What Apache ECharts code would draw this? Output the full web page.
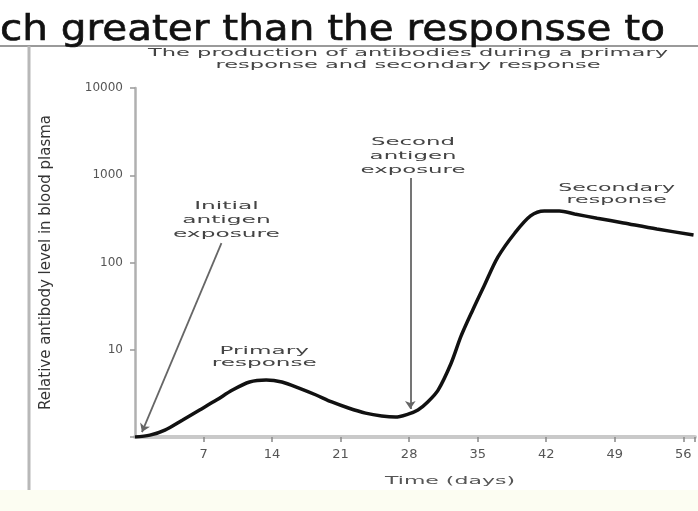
<!DOCTYPE html>
<html>
<head>
<meta charset="utf-8">
<script src="https://cdn.jsdelivr.net/npm/echarts@6/dist/echarts.min.js"></script>
<style>
html,body{margin:0;padding:0;background:#fff;}
#chart{width:698px;height:511px;}
</style>
</head>
<body>
<div id="chart"></div>
<script>
// ---- data ----
const days = [0, 1.52, 3.05, 4.87, 6.6, 8.32, 9.95, 11.7, 13.4, 15.0, 16.75, 18.5, 20.1, 21.8, 23.55, 25.2, 26.6, 27.9, 28.9, 29.9, 30.96, 32.3, 33.3, 34.5, 35.7, 37.06, 38.8, 40.4, 41.8, 43.35, 44.9, 47.2, 49.9, 53.3, 57.05];
const antibodyLevel = [1.0, 1.05, 1.2, 1.57, 2.04, 2.65, 3.45, 4.27, 4.5, 4.27, 3.64, 3.03, 2.52, 2.15, 1.88, 1.74, 1.69, 1.83, 2.04, 2.52, 3.45, 7.06, 14.3, 28.6, 55.2, 115, 218, 342, 390, 390, 360, 322, 284, 242, 207];
const xTickLabels = ['7', '14', '21', '28', '35', '42', '49', '56'];
const yTickLabels = ['10', '100', '1000', '10000'];
const annoText = ['Initial\nantigen\nexposure', 'Primary\nresponse', 'Second\nantigen\nexposure', 'Secondary\nresponse'];
const annoDay = [9.34, 13.2, 28.4, 49.2];
const annoLevel = [307, 8.15, 1662, 610];
const arrowFromDay = [8.83, 28.12];
const arrowFromLevel = [167, 930];
const arrowToDay = [0.71, 28.12];
const arrowToLevel = [1.14, 2.09];
const headline = 'ch greater than the responsse to';
const titleLines = ['The production of antibodies during a primary', 'response and secondary response'];
const xName = 'Time (days)';
const yName = 'Relative antibody level in blood plasma';

// ---- layout helpers ----
const FF = '"DejaVu Sans", sans-serif';
const ctx = document.createElement('canvas').getContext('2d');
function measure(text, size, weight) {
  ctx.font = (weight || 'normal') + ' ' + size + 'px ' + FF;
  return Math.max.apply(null, text.split('\n').map(t => ctx.measureText(t).width));
}
const annoTargetW = [107, 105, 105, 117];
const annoLH = [14, 12, 14, 12];
const yNameSize = 14 * 295 / measure(yName, 14);

const chart = echarts.init(document.getElementById('chart'));

const option = {
  backgroundColor: '#ffffff',
  animation: false,
  grid: { left: 135, right: 0, top: 88, bottom: 74 },
  xAxis: {
    type: 'value', min: 0, max: 57.2, interval: 7,
    axisLine: { show: true, lineStyle: { color: '#c9c9c9', width: 4 } },
    axisTick: { show: true, length: 5, lineStyle: { color: '#888', width: 1.5 } },
    splitLine: { show: false },
    axisLabel: {
      margin: 11, fontSize: 13, color: '#555', fontFamily: FF,
      showMinLabel: false, showMaxLabel: true,
      formatter: v => { const s = String(Math.round(v)); return (Math.abs(v - Math.round(v)) < 1e-6 && xTickLabels.indexOf(s) >= 0) ? s : ''; }
    }
  },
  yAxis: {
    type: 'log', logBase: 10, min: 1, max: 10000,
    name: yName, nameLocation: 'middle', nameGap: 81,
    nameTextStyle: { fontSize: yNameSize, color: '#333', fontFamily: FF },
    axisLine: { show: true, lineStyle: { color: '#b0b0b0', width: 2.5 } },
    axisTick: { show: true, length: 5, lineStyle: { color: '#999', width: 1.5 } },
    minorTick: { show: false },
    splitLine: { show: false },
    axisLabel: {
      margin: 12, fontSize: 12, color: '#555', fontFamily: FF,
      formatter: v => { const s = String(Math.round(v)); return yTickLabels.indexOf(s) >= 0 ? s : ''; }
    }
  },
  series: [{
    type: 'line',
    data: days.map((d, i) => [d, antibodyLevel[i]]),
    smooth: 0.3,
    symbol: 'none',
    lineStyle: { color: '#111', width: 3.5 },
    z: 5,
    markLine: {
      silent: true,
      symbol: ['none', 'arrow'],
      symbolSize: 8,
      label: { show: false },
      lineStyle: { color: '#666', width: 1.8, type: 'solid' },
      data: arrowFromDay.map((d, i) => [
        { coord: [d, arrowFromLevel[i]] },
        { coord: [arrowToDay[i], arrowToLevel[i]] }
      ])
    }
  }]
};
chart.setOption(option);

// ---- text / decoration graphics ----
const graphics = [];
graphics.push({ type: 'rect', shape: { x: 0, y: 490, width: 698, height: 21 }, style: { fill: '#fcfdf2' }, z: -1, silent: true });
graphics.push({ type: 'line', shape: { x1: 0, y1: 46, x2: 698, y2: 46 }, style: { stroke: '#9a9a9a', lineWidth: 2 }, silent: true });
graphics.push({ type: 'line', shape: { x1: 29, y1: 46, x2: 29, y2: 490 }, style: { stroke: '#b8b8b8', lineWidth: 3 }, silent: true });

const hs = 665 / measure(headline, 35);
graphics.push({ type: 'text', x: 0, y: 31, scaleX: hs, silent: true,
  style: { text: headline, fontSize: 35, fontFamily: FF, fill: '#111', stroke: '#111', lineWidth: 0.6, textAlign: 'left', align: 'left', textVerticalAlign: 'middle', verticalAlign: 'middle' } });

const titleTargets = [520, 385];
const titleY = [53, 65];
titleLines.forEach((t, i) => {
  const s = titleTargets[i] / measure(t, 10.5);
  graphics.push({ type: 'text', x: 408, y: titleY[i], scaleX: s, silent: true,
    style: { text: t, fontSize: 10.5, fontFamily: FF, fill: '#444', textAlign: 'center', align: 'center', textVerticalAlign: 'middle', verticalAlign: 'middle' } });
});

const xs = 130 / measure(xName, 11);
graphics.push({ type: 'text', x: 450, y: 481, scaleX: xs, silent: true,
  style: { text: xName, fontSize: 11, fontFamily: FF, fill: '#555', textAlign: 'center', align: 'center', textVerticalAlign: 'middle', verticalAlign: 'middle' } });

annoText.forEach((t, i) => {
  const p = chart.convertToPixel({ seriesIndex: 0 }, [annoDay[i], annoLevel[i]]);
  const s = annoTargetW[i] / measure(t, 10.5);
  graphics.push({ type: 'text', x: p[0], y: p[1], scaleX: s, silent: true, z: 10,
    style: { text: t, fontSize: 10.5, lineHeight: annoLH[i], fontFamily: FF, fill: '#444', textAlign: 'center', align: 'center', textVerticalAlign: 'middle', verticalAlign: 'middle' } });
});

chart.setOption({ graphic: { elements: graphics } });
</script>
</body>
</html>
